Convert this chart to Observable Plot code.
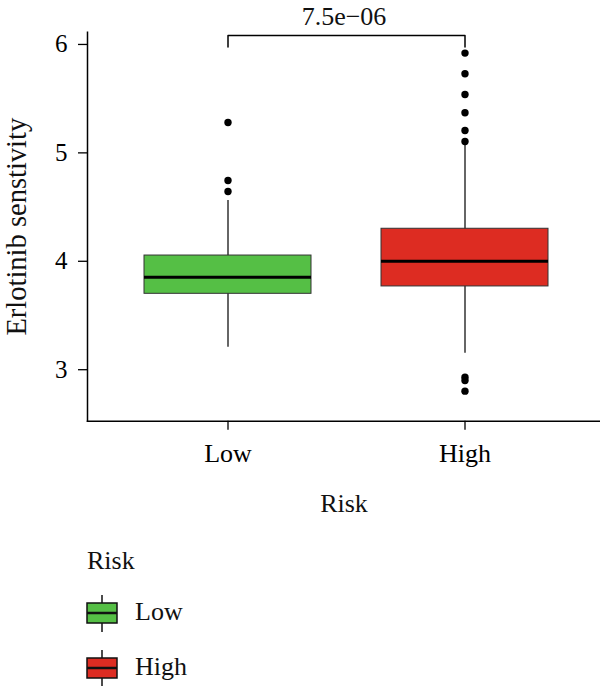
<!DOCTYPE html>
<html><head><meta charset="utf-8">
<script src="https://cdn.jsdelivr.net/npm/d3@7"></script>
<script src="https://cdn.jsdelivr.net/npm/@observablehq/plot@0.6"></script>
<style>
body{margin:0;background:#fff;font-family:"Liberation Serif",serif;}
#wrap{position:relative;width:600px;height:686px;overflow:hidden;}
#wrap svg.plot{position:absolute;left:0;top:0;}
#wrap svg.plot text{font-family:"Liberation Serif",serif;font-variant:normal;}
.leg{position:absolute;font-size:26px;color:#111;line-height:1;}
</style></head><body><div id="wrap"></div>
<script>
// ---- data ----
const groups = ["Low", "High"];
const colors = ["#55bf45", "#dd2c22"];
const q1 = [3.700, 3.768];
const median = [3.853, 4.001];
const q3 = [4.053, 4.300];
const whiskerLow = [3.208, 3.152];
const whiskerHigh = [4.561, 5.07];
const outliersLow = [5.280, 4.745, 4.644];
const outliersHigh = [5.920, 5.730, 5.539, 5.370, 5.207, 5.105, 2.931, 2.900, 2.802];
const yTicks = [3, 4, 5, 6];
const pLabel = "7.5e\u221206";
const bracketTop = 6.083, bracketFoot = 5.976;
const yTitle = "Erlotinib senstivity";
const xTitle = "Risk";
const legendTitle = "Risk";

// ---- tables ----
const stats = groups.map((g, i) => ({risk: g, q1: q1[i], med: median[i], q3: q3[i], lo: whiskerLow[i], hi: whiskerHigh[i]}));
const outliers = [
  ...outliersLow.map(v => ({risk: "Low", value: v})),
  ...outliersHigh.map(v => ({risk: "High", value: v}))
];
const bracket = [
  {risk: "Low", value: bracketFoot}, {risk: "Low", value: bracketTop},
  {risk: "High", value: bracketTop}, {risk: "High", value: bracketFoot}
];

const FF = "Liberation Serif";
const W = 600, H = 530;
const chart = Plot.plot({
  width: W, height: H,
  marginLeft: 87, marginRight: 0, marginTop: 31.7, marginBottom: H - 420.7,
  style: {fontFamily: "'Liberation Serif', serif", color: "#000", background: "transparent"},
  x: {type: "band", domain: groups, paddingInner: 0.2974, paddingOuter: 0.2279, align: 0.517, axis: null},
  y: {domain: [2.525, 6.113], axis: null},
  color: {domain: groups, range: colors},
  marks: [
    Plot.frame({anchor: "left", stroke: "#000", strokeWidth: 1.5}),
    Plot.frame({anchor: "bottom", stroke: "#000", strokeWidth: 1.5}),
    Plot.axisY({ticks: yTicks, tickFormat: d => String(d), tickSize: 9, tickPadding: 11, fontSize: 25, fontFamily: FF, label: null, strokeWidth: 1.3}),
    Plot.axisX({tickSize: 9, tickPadding: 13, fontSize: 26, fontFamily: FF, label: null, strokeWidth: 1.3}),
    Plot.ruleX(stats, {x: "risk", y1: "lo", y2: "hi", stroke: "#333", strokeWidth: 1.5}),
    Plot.barY(stats, {x: "risk", y1: "q1", y2: "q3", fill: "risk", stroke: "#333", strokeWidth: 1}),
    Plot.tickY(stats, {x: "risk", y: "med", stroke: "#000", strokeWidth: 3}),
    Plot.dot(outliers, {x: "risk", y: "value", r: 3.7, fill: "#000", stroke: null}),
    Plot.line(bracket, {x: "risk", y: "value", stroke: "#000", strokeWidth: 1.5}),
    Plot.text([pLabel], {frameAnchor: "top", dy: 24 - 31.7, lineAnchor: "bottom", fontSize: 26, fontFamily: FF, fill: "#111"}),
    Plot.text([xTitle], {frameAnchor: "bottom", dy: 91, lineAnchor: "bottom", fontSize: 26, fontFamily: FF, fill: "#111"}),
    Plot.text([yTitle], {frameAnchor: "left", dx: 25 - 87, rotate: -90, textAnchor: "middle", lineAnchor: "bottom", fontSize: 28.5, fontFamily: FF, fill: "#111"})
  ]
});
chart.classList.add("plot");
const wrap = document.getElementById("wrap");
wrap.appendChild(chart);

// ---- legend (below the plot svg) ----
const lt = document.createElement("div");
lt.className = "leg";
lt.style.left = "87px"; lt.style.top = "548px";
lt.textContent = legendTitle;
wrap.appendChild(lt);
const rowTops = [594, 649];
groups.forEach((g, i) => {
  const top = rowTops[i];
  const svg = d3.create("svg").attr("width", 34).attr("height", 40)
    .style("position", "absolute").style("left", "85px").style("top", top + "px");
  svg.append("line").attr("x1", 17).attr("x2", 17).attr("y1", 1).attr("y2", 38).attr("stroke", "#111").attr("stroke-width", 1.5);
  svg.append("rect").attr("x", 2).attr("y", 9).attr("width", 30).attr("height", 20).attr("fill", colors[i]).attr("stroke", "#111").attr("stroke-width", 1.5);
  svg.append("line").attr("x1", 2).attr("x2", 32).attr("y1", 19).attr("y2", 19).attr("stroke", "#111").attr("stroke-width", 2.5);
  wrap.appendChild(svg.node());
  const lab = document.createElement("div");
  lab.className = "leg";
  lab.style.left = "135px"; lab.style.top = (top + 5) + "px";
  lab.textContent = g;
  wrap.appendChild(lab);
});
</script>
</body></html>
